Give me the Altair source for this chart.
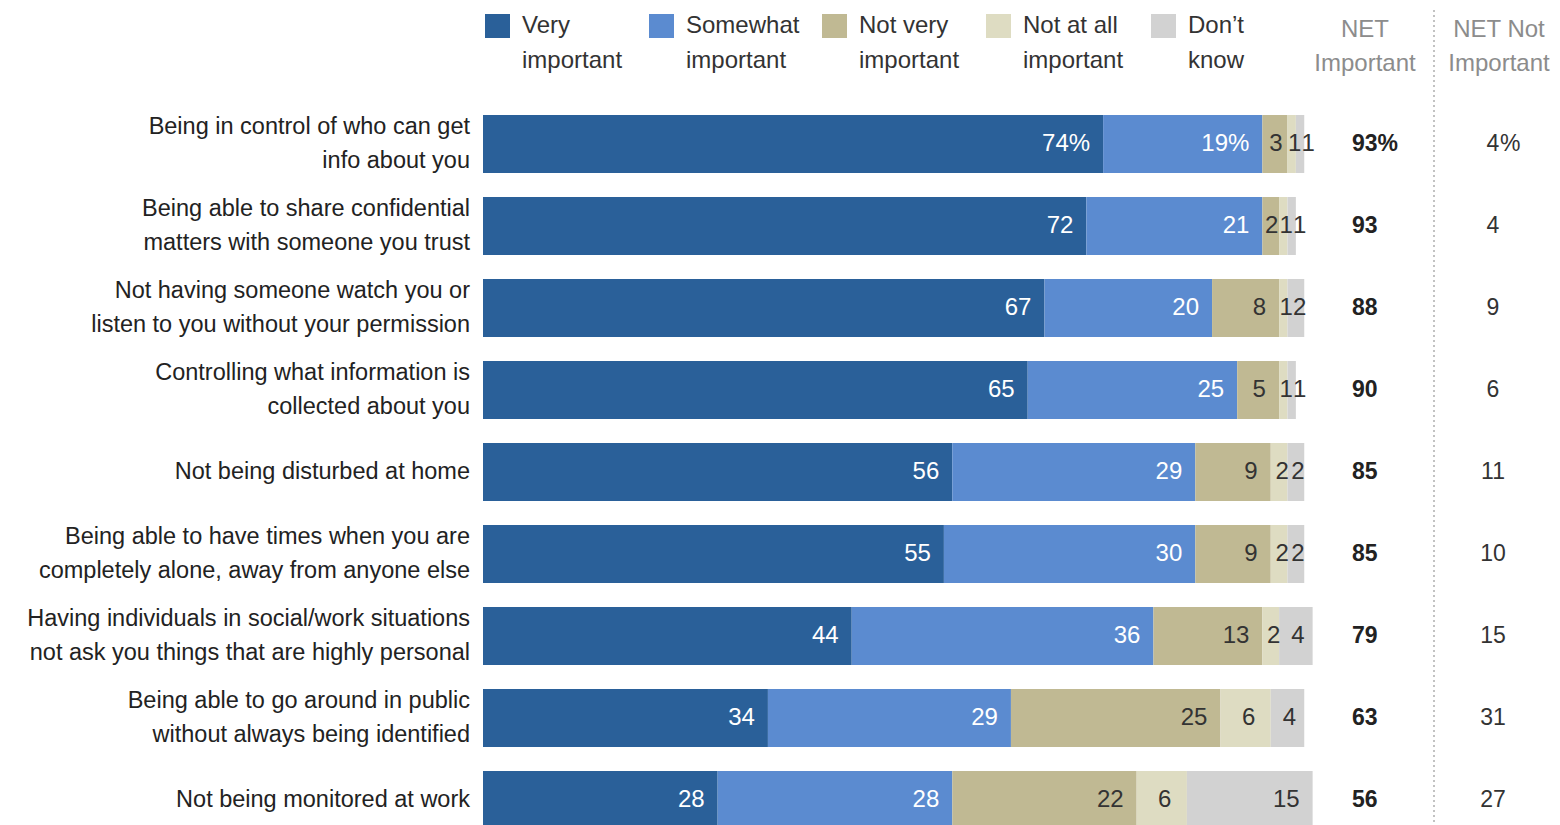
import altair as alt
import pandas as pd

categories = [
    "Being in control of who can get\ninfo about you",
    "Being able to share confidential\nmatters with someone you trust",
    "Not having someone watch you or\nlisten to you without your permission",
    "Controlling what information is\ncollected about you",
    "Not being disturbed at home",
    "Being able to have times when you are\ncompletely alone, away from anyone else",
    "Having individuals in social/work situations\nnot ask you things that are highly personal",
    "Being able to go around in public\nwithout always being identified",
    "Not being monitored at work",
]
series = ["Very important", "Somewhat important", "Not very important",
          "Not at all important", "Don't know"]
legend_labels = ["Very\nimportant", "Somewhat\nimportant", "Not very\nimportant",
                 "Not at all\nimportant", "Don’t\nknow"]
colors = ["#2A6099", "#5B8BD0", "#C0B993", "#DEDCC2", "#D2D2D2"]

very = [74, 72, 67, 65, 56, 55, 44, 34, 28]
somewhat = [19, 21, 20, 25, 29, 30, 36, 29, 28]
not_very = [3, 2, 8, 5, 9, 9, 13, 25, 22]
not_at_all = [1, 1, 1, 1, 2, 2, 2, 6, 6]
dont_know = [1, 1, 2, 1, 2, 2, 4, 4, 15]
net_important = [93, 93, 88, 90, 85, 85, 79, 63, 56]
net_not_important = [4, 4, 9, 6, 11, 10, 15, 31, 27]
net_headers = ["NET\nImportant", "NET Not\nImportant"]

FONT = "Liberation Sans"
W, H = 1544, 817
PX_PER_PCT = 8.38

values = [very, somewhat, not_very, not_at_all, dont_know]
rows = []
for i, cat in enumerate(categories):
    for j, s in enumerate(series):
        v = values[j][i]
        lab = f"{v}%" if (i == 0 and j < 2) else str(v)
        rows.append({"cat": cat, "series": s, "ord": j, "value": v, "label": lab})
df = pd.DataFrame(rows)

net_df = pd.DataFrame({
    "cat": categories,
    "imp": [f"{v}%" if i == 0 else str(v) for i, v in enumerate(net_important)],
    "notimp": [str(v) for v in net_not_important],
})
cat_df = pd.DataFrame({"cat": categories})
cat_two = cat_df[cat_df["cat"].str.contains("\n")]
cat_one = cat_df[~cat_df["cat"].str.contains("\n")]

x_scale = alt.Scale(domain=[0, 100], range=[475, 475 + 100 * PX_PER_PCT])
y_scale = alt.Scale(domain=categories, range=[95, 833], paddingInner=0.2927, paddingOuter=0.1463)
Y = alt.Y("cat:N", scale=y_scale, axis=None)

base = alt.Chart(df).transform_stack(
    stack="value", groupby=["cat"], as_=["x0", "x1"], sort=[alt.SortField("ord")]
)

bars = base.mark_bar().encode(
    x=alt.X("x0:Q", scale=x_scale, axis=None),
    x2="x1:Q",
    y=Y,
    color=alt.Color("series:N", scale=alt.Scale(domain=series, range=colors), legend=None),
)

txt_color = alt.condition("datum.ord < 2", alt.value("#FFFFFF"), alt.value("#333333"))

right_labels = base.transform_filter("datum.value >= 8").mark_text(
    align="right", baseline="middle", dx=-13, fontSize=24, font=FONT
).encode(
    x=alt.X("x1:Q", scale=x_scale, axis=None),
    y=Y,
    text="label:N",
    color=txt_color,
)

# small segments: centred labels, nudged right so neighbouring digits don't collide
center_labels = base.transform_filter("datum.value < 8").transform_calculate(
    mid="(datum.x0 + datum.x1) / 2",
).transform_calculate(
    naa_tmp="datum.ord == 3 ? datum.mid : -100",
).transform_joinaggregate(
    naa_mid="max(naa_tmp)", groupby=["cat"]
).transform_calculate(
    xm=f"datum.ord == 3 ? datum.mid + {3 / PX_PER_PCT} : "
       f"(datum.ord == 4 ? max(datum.mid + {2 / PX_PER_PCT}, datum.naa_mid + {16.5 / PX_PER_PCT}) : "
       f"datum.mid + {1 / PX_PER_PCT})"
).mark_text(
    align="center", baseline="middle", fontSize=24, font=FONT
).encode(
    x=alt.X("xm:Q", scale=x_scale, axis=None),
    y=Y,
    text="label:N",
    color=txt_color,
)

cat_labels_two = alt.Chart(cat_two).mark_text(
    align="right", baseline="middle", lineBreak="\n", lineHeight=34, dy=-17,
    fontSize=23.5, font=FONT, color="#222222"
).encode(x=alt.value(462), y=Y, text="cat:N")

cat_labels_one = alt.Chart(cat_one).mark_text(
    align="right", baseline="middle", fontSize=23.5, font=FONT, color="#222222"
).encode(x=alt.value(462), y=Y, text="cat:N")

net_imp = alt.Chart(net_df).mark_text(
    align="left", baseline="middle", fontSize=23, font=FONT, fontWeight="bold", color="#222222"
).encode(x=alt.value(1344), y=Y, text="imp:N")

net_not = alt.Chart(net_df).mark_text(
    align="center", baseline="middle", fontSize=23, font=FONT, color="#333333"
).encode(x=alt.value(1485), y=Y, text="notimp:N")

net_not_pct = alt.Chart(net_df.iloc[[0]]).mark_text(
    align="left", baseline="middle", fontSize=23, font=FONT, color="#333333", text="%"
).encode(x=alt.value(1492), y=Y)

hdr_df = pd.DataFrame({"h": net_headers})
headers = []
for k, hx in enumerate([1357, 1491]):
    headers.append(
        alt.Chart(hdr_df.iloc[[k]]).mark_text(
            align="center", baseline="middle", lineBreak="\n", lineHeight=34,
            fontSize=24, font=FONT, color="#8C8C8C"
        ).encode(x=alt.value(hx), y=alt.value(22), text="h:N")
    )

divider = alt.Chart(pd.DataFrame({"a": [0]})).mark_rule(
    strokeDash=[2, 3], color="#9A9A9A", strokeWidth=1.2
).encode(x=alt.value(1426), y=alt.value(2), y2=alt.value(H))

leg_sq_x = [477, 641, 814, 978, 1143]
legend_layers = []
leg_df = pd.DataFrame({"series": series, "label": legend_labels})
for j in range(len(series)):
    one = alt.Chart(leg_df.iloc[[j]])
    legend_layers.append(
        one.mark_rect(color=colors[j]).encode(
            x=alt.value(leg_sq_x[j]), x2=alt.value(leg_sq_x[j] + 25),
            y=alt.value(6), y2=alt.value(30),
        )
    )
    legend_layers.append(
        one.mark_text(
            align="left", baseline="middle", lineBreak="\n", lineHeight=35,
            fontSize=24, font=FONT, color="#333333"
        ).encode(x=alt.value(leg_sq_x[j] + 37), y=alt.value(17.5), text="label:N")
    )

chart = alt.layer(
    bars, right_labels, center_labels, cat_labels_two, cat_labels_one,
    net_imp, net_not, net_not_pct, divider, *headers, *legend_layers
).properties(
    width=W, height=H, padding=0, autosize=alt.AutoSizeParams(type="none")
).configure_view(stroke=None)

chart.save("out.html", embed_options={"renderer": "svg", "actions": False})
